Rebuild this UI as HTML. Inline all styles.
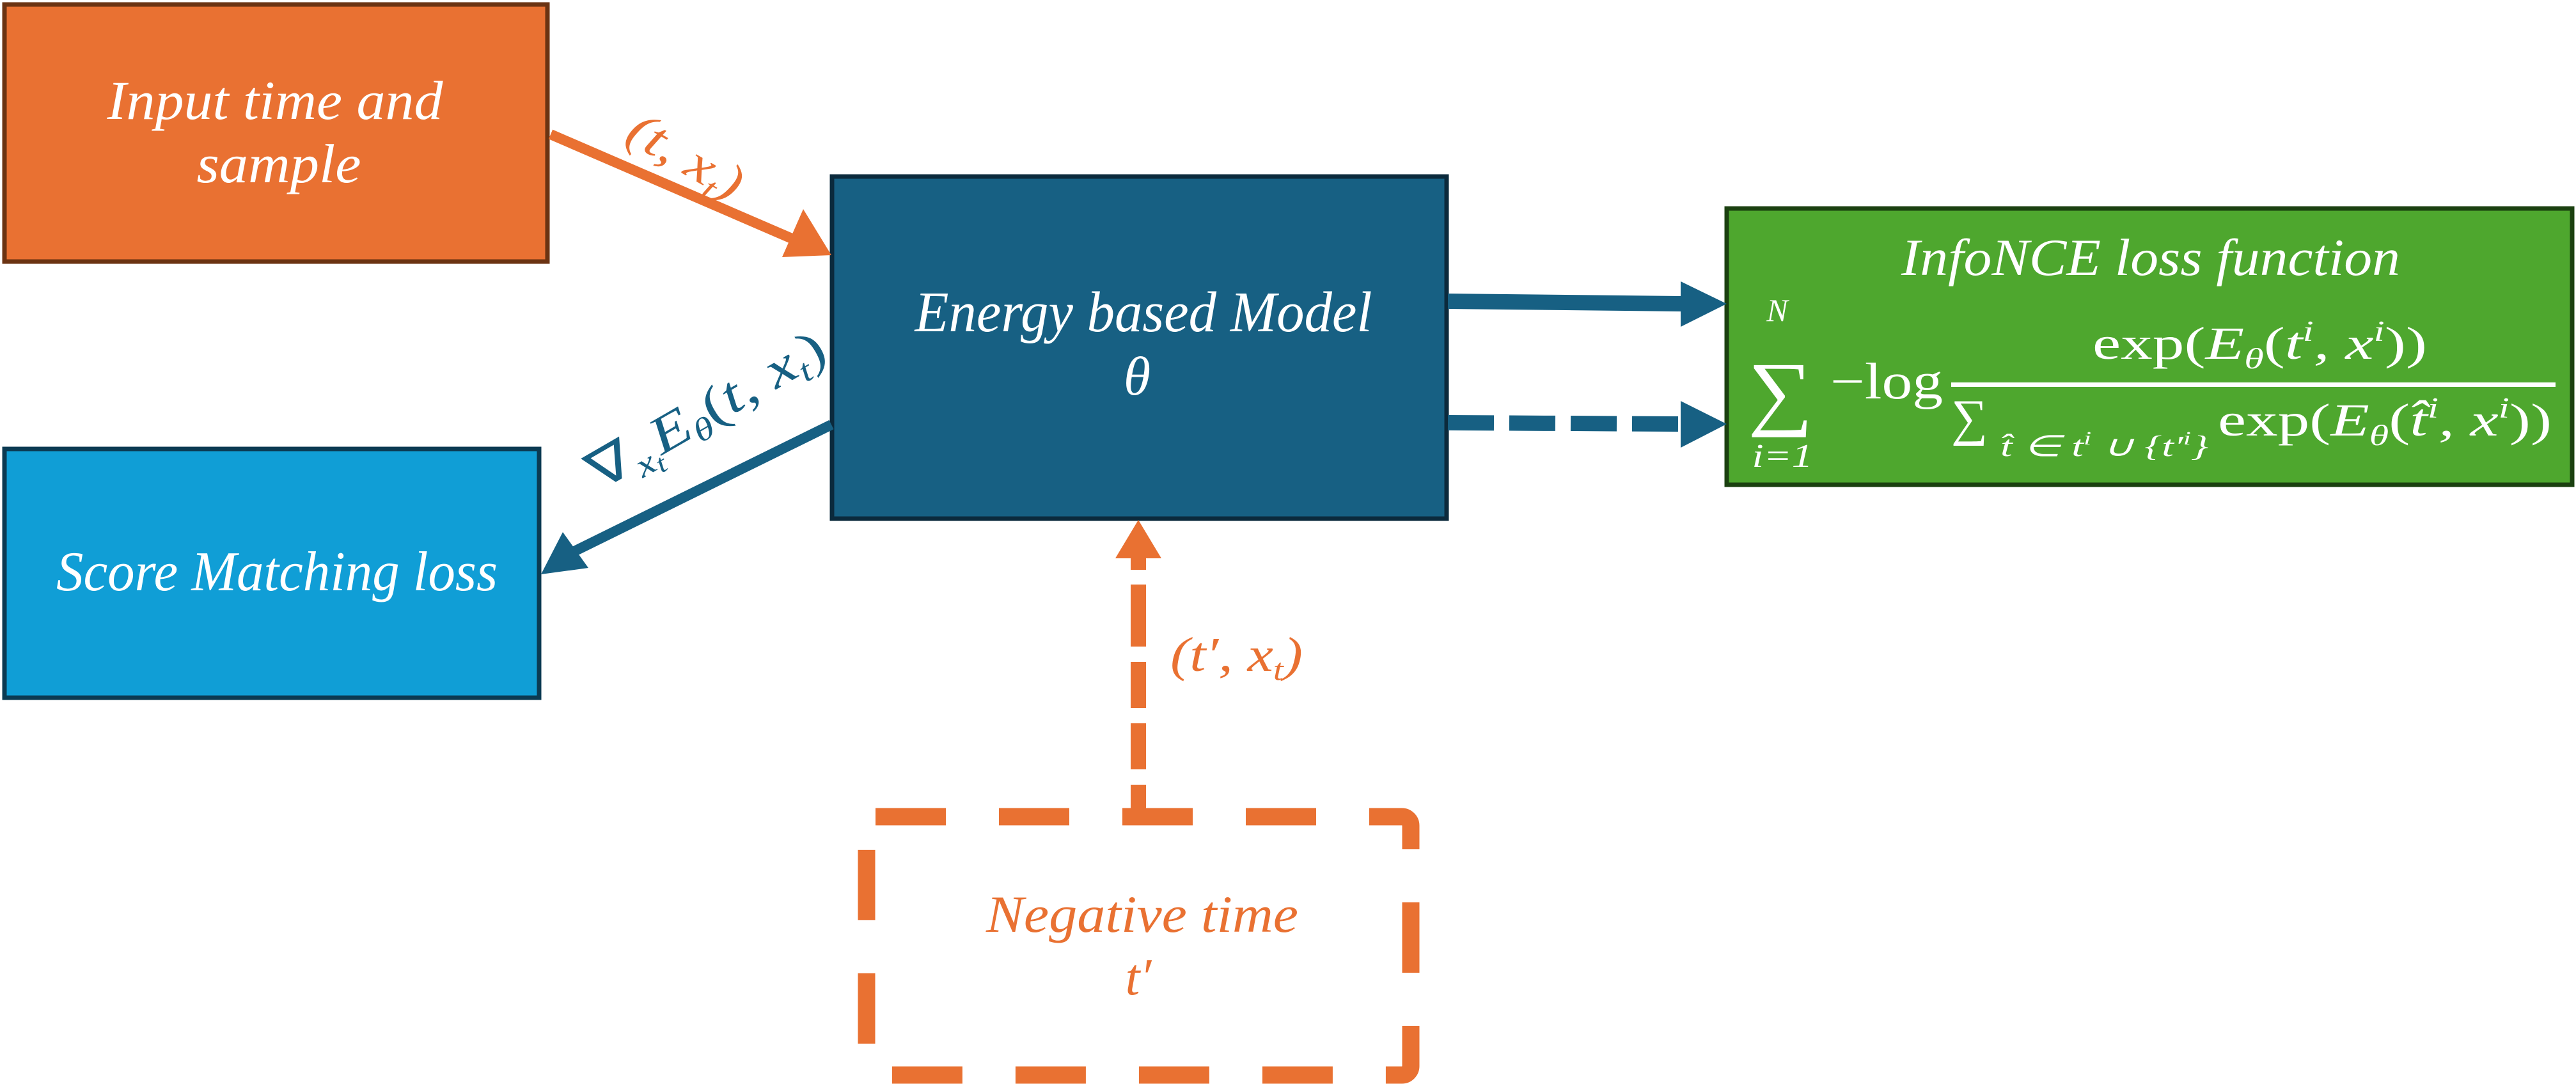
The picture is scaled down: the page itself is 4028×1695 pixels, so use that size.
<!DOCTYPE html>
<html><head><meta charset="utf-8"><style>
html,body{margin:0;padding:0;background:#fff;}
svg{display:block;}
text{font-family:"Liberation Serif",serif;font-style:italic;}
</style></head><body>
<svg width="4028" height="1695" viewBox="0 0 4028 1695" xmlns="http://www.w3.org/2000/svg">
<!-- Input box -->
<rect x="7" y="7" width="849" height="402" fill="#E97132" stroke="#6B3312" stroke-width="7"/>
<text x="430" y="186" font-size="86" fill="#fff" text-anchor="middle" textLength="525" lengthAdjust="spacingAndGlyphs">Input time and</text>
<text x="436" y="285" font-size="86" fill="#fff" text-anchor="middle" textLength="257" lengthAdjust="spacingAndGlyphs">sample</text>

<!-- Energy box -->
<rect x="1301" y="276" width="961" height="535" fill="#176083" stroke="#0B2A3C" stroke-width="7"/>
<text x="1788" y="518" font-size="90" fill="#fff" text-anchor="middle" textLength="715" lengthAdjust="spacingAndGlyphs">Energy based Model</text>
<text x="1778" y="617" font-size="86" fill="#fff" text-anchor="middle">θ</text>

<!-- Score matching box -->
<rect x="7" y="702" width="836" height="389" fill="#109ED6" stroke="#0B3A52" stroke-width="7"/>
<text x="433" y="923" font-size="88" fill="#fff" text-anchor="middle" textLength="690" lengthAdjust="spacingAndGlyphs">Score Matching loss</text>

<!-- Green box -->
<rect x="2700" y="326" width="1322" height="432" fill="#4EA72E" stroke="#1B4010" stroke-width="7"/>
<text x="3363" y="430" font-size="82" fill="#fff" text-anchor="middle" textLength="780" lengthAdjust="spacingAndGlyphs">InfoNCE  loss function</text>
<text x="2779" y="502" font-size="50" fill="#fff" text-anchor="middle">N</text>
<text x="2733" y="656" font-size="130" fill="#fff" style="font-style:normal" textLength="102" lengthAdjust="spacingAndGlyphs">∑</text>
<text x="2787" y="730" font-size="52" fill="#fff" text-anchor="middle" textLength="95" lengthAdjust="spacingAndGlyphs">i=1</text>
<text x="2862" y="623" font-size="80" fill="#fff" style="font-style:normal" textLength="176" lengthAdjust="spacingAndGlyphs">−log</text>
<rect x="3051" y="598" width="945" height="7" fill="#fff"/>
<text x="3272" y="561" font-size="72" fill="#fff" textLength="523" lengthAdjust="spacingAndGlyphs"><tspan style="font-style:normal">exp(</tspan>E<tspan font-size="45" dy="15">θ</tspan><tspan dy="-15" style="font-style:normal">(</tspan>t<tspan font-size="45" dy="-28">i</tspan><tspan dy="28">, x</tspan><tspan font-size="45" dy="-28">i</tspan><tspan dy="28" style="font-style:normal">))</tspan></text>
<text x="3051" y="680" font-size="80" fill="#fff" style="font-style:normal">∑</text>
<text x="3128" y="713" font-size="46" fill="#fff" textLength="325" lengthAdjust="spacingAndGlyphs">t̂ ∈ t<tspan font-size="30" dy="-18">i</tspan><tspan dy="18"> ∪ {t′</tspan><tspan font-size="30" dy="-18">i</tspan><tspan dy="18">}</tspan></text>
<text x="3468" y="681" font-size="72" fill="#fff" textLength="522" lengthAdjust="spacingAndGlyphs"><tspan style="font-style:normal">exp(</tspan>E<tspan font-size="45" dy="15">θ</tspan><tspan dy="-15" style="font-style:normal">(</tspan>t̂<tspan font-size="45" dy="-28">i</tspan><tspan dy="28">, x</tspan><tspan font-size="45" dy="-28">i</tspan><tspan dy="28" style="font-style:normal">))</tspan></text>

<!-- Orange arrow input -> energy -->
<line x1="861" y1="210" x2="1245" y2="376" stroke="#E97132" stroke-width="16"/>
<polygon points="1300,399 1223,402 1256,327" fill="#E97132"/>
<text transform="translate(975,218) rotate(30)" font-size="80" fill="#E97132" textLength="195" lengthAdjust="spacingAndGlyphs">(t, x<tspan font-size="52" dy="16">t</tspan><tspan dy="-16">)</tspan></text>

<!-- Blue arrow energy -> score -->
<line x1="1300" y1="664" x2="890" y2="866" stroke="#176083" stroke-width="16"/>
<polygon points="846,898 880,832 920,888" fill="#176083"/>
<text transform="translate(938,768) rotate(-30)" font-size="82" fill="#176083" textLength="415" lengthAdjust="spacingAndGlyphs"><tspan style="font-style:normal">∇</tspan><tspan font-size="52" dy="16">x</tspan><tspan font-size="40" dy="8">t</tspan><tspan dy="-24">E</tspan><tspan font-size="50" dy="14">θ</tspan><tspan dy="-14" style="font-style:normal">(</tspan>t, x<tspan font-size="50" dy="14">t</tspan><tspan dy="-14" style="font-style:normal">)</tspan></text>

<!-- Solid arrow to green -->
<polygon points="2264,459 2628,463 2628,487 2264,483" fill="#176083"/>
<polygon points="2628,440 2700,475 2628,511" fill="#176083"/>
<!-- Dashed arrow to green -->
<line x1="2264" y1="661" x2="2628" y2="663" stroke="#176083" stroke-width="24" stroke-dasharray="72 24"/>
<polygon points="2628,627 2700,663 2628,700" fill="#176083"/>

<!-- Orange dashed vertical arrow -->
<polygon points="1780,813 1816,873 1744,873" fill="#E97132"/>
<line x1="1780" y1="873" x2="1780" y2="1277" stroke="#E97132" stroke-width="24" stroke-dasharray="18 23 97 24 72 24 72 24 60"/>
<text x="1830" y="1049" font-size="76" fill="#E97132" textLength="207" lengthAdjust="spacingAndGlyphs">(t′, x<tspan font-size="48" dy="14">t</tspan><tspan dy="-14">)</tspan></text>

<!-- Negative dashed box -->
<rect x="1355" y="1277" width="851" height="404" rx="14" fill="none" stroke="#E97132" stroke-width="27" stroke-dasharray="110 83"/>
<text x="1786" y="1457" font-size="82" fill="#E97132" text-anchor="middle" textLength="488" lengthAdjust="spacingAndGlyphs">Negative time</text>
<text x="1780" y="1555" font-size="82" fill="#E97132" text-anchor="middle">t′</text>
</svg>
</body></html>
